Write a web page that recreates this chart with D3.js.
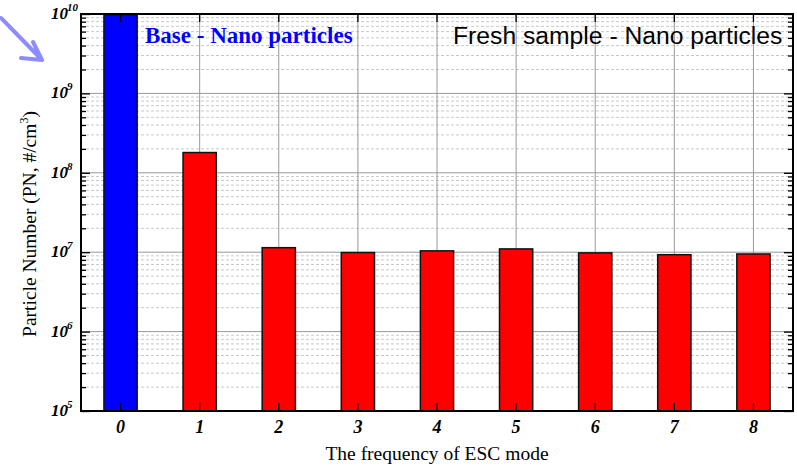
<!DOCTYPE html>
<html>
<head>
<meta charset="utf-8">
<script src="https://cdn.jsdelivr.net/npm/d3@7"></script>
<style>
  body { margin: 0; background: #fff; }
  svg { display: block; }
  .serif { font-family: "Liberation Serif", "Times New Roman", serif; }
  .sans { font-family: "Liberation Sans", Arial, sans-serif; }
</style>
</head>
<body>
<svg id="chart" width="797" height="469"></svg>
<script>

// data
var modes = ["0", "1", "2", "3", "4", "5", "6", "7", "8"];
var particleNumber = [9.7e9, 1.8e8, 1.14e7, 9.9e6, 1.04e7, 1.1e7, 9.8e6, 9.3e6, 9.5e6];
var barColors = ["#0000ff", "#ff0000", "#ff0000", "#ff0000", "#ff0000", "#ff0000", "#ff0000", "#ff0000", "#ff0000"];
var yDecades = [5, 6, 7, 8, 9, 10];

(function() {

	var svg = d3.select("#chart");

	// plot box
	var pLeft = 81, pRight = 793, pTop = 14, pBottom = 411;

	var x = d3.scaleBand()
		.domain(modes)
		.range([pLeft, pRight])
		.paddingInner(0.58)
		.paddingOuter(0.29);

	var y = d3.scaleLog()
		.domain([1e5, 1e10])
		.range([pBottom, pTop]);

	// minor tick values 2..9 x 10^k
	var minors = [];
	yDecades.slice(0, -1).forEach(function(k) {
		for (var m = 2; m <= 9; m++) minors.push(m * Math.pow(10, k));
	});
	var majors = yDecades.map(function(k) { return Math.pow(10, k); });

	// minor gridlines (dashed)
	svg.append("g").selectAll("line")
		.data(minors)
		.enter()
		.append("line")
		.attr("x1", pLeft).attr("x2", pRight)
		.attr("y1", function(d) { return y(d); })
		.attr("y2", function(d) { return y(d); })
		.style("stroke", "#c8c8c8")
		.style("stroke-dasharray", "3,2")
		.style("stroke-width", 1);

	// major gridlines
	svg.append("g").selectAll("line")
		.data(majors)
		.enter()
		.append("line")
		.attr("x1", pLeft).attr("x2", pRight)
		.attr("y1", function(d) { return y(d); })
		.attr("y2", function(d) { return y(d); })
		.style("stroke", "#999")
		.style("stroke-width", 1);

	// vertical gridlines
	svg.append("g").selectAll("line")
		.data(modes)
		.enter()
		.append("line")
		.attr("x1", function(d) { return x(d) + x.bandwidth() / 2; })
		.attr("x2", function(d) { return x(d) + x.bandwidth() / 2; })
		.attr("y1", pTop).attr("y2", pBottom)
		.style("stroke", "#999")
		.style("stroke-width", 1);

	// bars
	svg.append("g").selectAll("rect")
		.data(particleNumber)
		.enter()
		.append("rect")
		.attr("x", function(d, i) { return x(modes[i]); })
		.attr("width", x.bandwidth())
		.attr("y", function(d) { return y(d); })
		.attr("height", function(d) { return pBottom - y(d); })
		.style("fill", function(d, i) { return barColors[i]; })
		.style("stroke", "#111")
		.style("stroke-width", 1.5);

	// axes with inward ticks
	var noDomain = function(g) { g.select(".domain").remove(); };
	svg.append("g")
		.attr("transform", "translate(" + pLeft + ",0)")
		.call(d3.axisLeft(y).tickValues(majors).tickSize(-9).tickFormat(""))
		.call(noDomain);
	svg.append("g")
		.attr("transform", "translate(" + pLeft + ",0)")
		.call(d3.axisLeft(y).tickValues(minors).tickSize(-5).tickFormat(""))
		.call(noDomain);
	svg.append("g")
		.attr("transform", "translate(" + pRight + ",0)")
		.call(d3.axisRight(y).tickValues(majors).tickSize(-9).tickFormat(""))
		.call(noDomain);
	svg.append("g")
		.attr("transform", "translate(" + pRight + ",0)")
		.call(d3.axisRight(y).tickValues(minors).tickSize(-5).tickFormat(""))
		.call(noDomain);
	svg.append("g")
		.attr("transform", "translate(0," + pBottom + ")")
		.call(d3.axisBottom(x).tickSize(-8).tickFormat(""))
		.call(noDomain);
	svg.append("g")
		.attr("transform", "translate(0," + pTop + ")")
		.call(d3.axisTop(x).tickSize(-8).tickFormat(""))
		.call(noDomain);

	svg.selectAll(".tick line").style("stroke", "#000").style("stroke-width", 1.3);

	// frame
	svg.append("rect")
		.attr("x", pLeft).attr("y", pTop)
		.attr("width", pRight - pLeft).attr("height", pBottom - pTop)
		.style("fill", "none")
		.style("stroke", "#000")
		.style("stroke-width", 2);

	// y tick labels: 10^k
	var yLabels = svg.append("g").selectAll("text")
		.data(yDecades)
		.enter()
		.append("text")
		.attr("class", "serif")
		.attr("x", 51)
		.attr("y", function(d) { return y(Math.pow(10, d)) + 5; })
		.style("font-size", "17px")
		.style("font-weight", "bold")
		.style("font-style", "italic");
	yLabels.append("tspan").text("10");
	yLabels.append("tspan")
		.attr("dy", -8)
		.attr("dx", -1)
		.style("font-size", "11px")
		.text(function(d) { return d; });

	// x tick labels
	svg.append("g").selectAll("text")
		.data(modes)
		.enter()
		.append("text")
		.attr("class", "serif")
		.attr("x", function(d) { return x(d) + x.bandwidth() / 2; })
		.attr("y", 433)
		.attr("text-anchor", "middle")
		.style("font-size", "18px")
		.style("font-weight", "bold")
		.style("font-style", "italic")
		.text(function(d) { return d; });

	// axis titles
	svg.append("text")
		.attr("class", "serif")
		.attr("x", (pLeft + pRight) / 2)
		.attr("y", 460)
		.attr("text-anchor", "middle")
		.style("font-size", "19.5px")
		.text("The frequency of ESC mode");

	var yTitle = svg.append("text")
		.attr("class", "serif")
		.attr("transform", "translate(36,224) rotate(-90)")
		.attr("text-anchor", "middle")
		.style("font-size", "19.5px");
	yTitle.append("tspan").text("Particle Number (PN, #/cm");
	yTitle.append("tspan").attr("dy", -8).style("font-size", "12px").text("3");
	yTitle.append("tspan").attr("dy", 8).text(")");

	// in-plot labels
	svg.append("text")
		.attr("class", "serif")
		.attr("x", 145)
		.attr("y", 43)
		.style("font-size", "23px")
		.style("font-weight", "bold")
		.style("fill", "#0000ff")
		.text("Base - Nano particles");

	svg.append("text")
		.attr("class", "sans")
		.attr("x", 453)
		.attr("y", 44)
		.style("font-size", "24.7px")
		.style("fill", "#000")
		.text("Fresh sample - Nano particles");

	// arrow in the corner
	svg.append("path")
		.attr("d", "M1,18 L42,60 M33,42 L42,60 L21,58")
		.style("fill", "none")
		.style("stroke", "#8c8cff")
		.style("stroke-width", 4)
		.style("stroke-linecap", "round")
		.style("stroke-linejoin", "round");

})();

</script>
</body>
</html>
